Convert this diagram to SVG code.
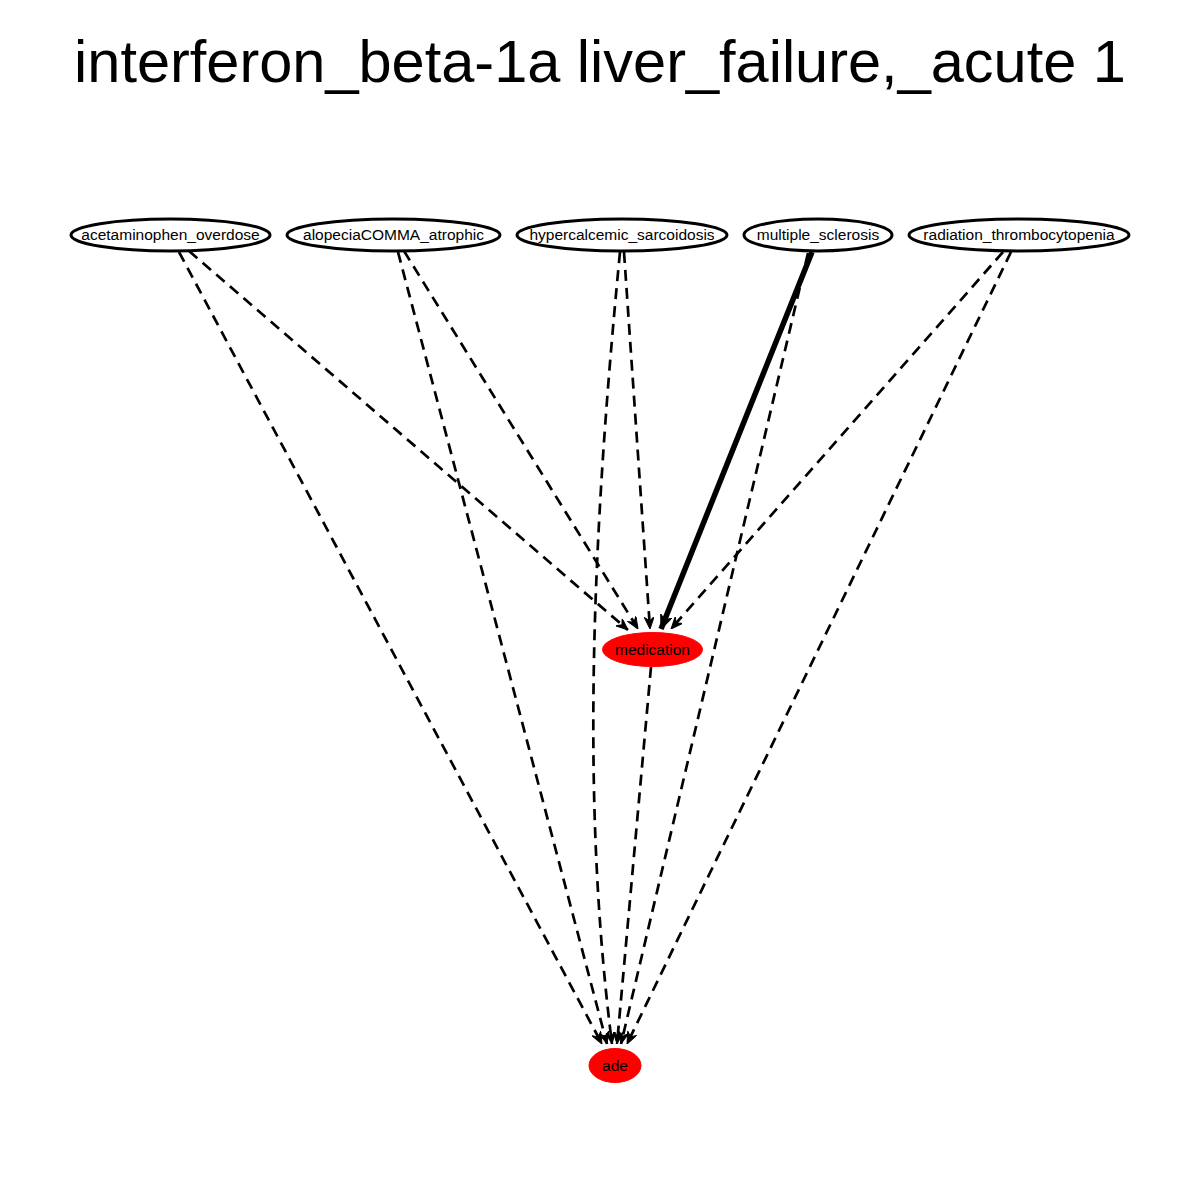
<svg xmlns="http://www.w3.org/2000/svg" width="1200" height="1200" viewBox="0 0 1200 1200">
<style>
.title{font-family:"Liberation Sans",Arial,sans-serif;font-size:59.5px;fill:#000;text-anchor:middle}
.lbl{font-family:"Liberation Sans",Arial,sans-serif;font-size:15.5px;fill:#000;text-anchor:middle}
.src{fill:#fff;stroke:#000;stroke-width:3}
.red{fill:#ff0000;stroke:#ff0000;stroke-width:1}
.e{fill:none;stroke:#000;stroke-width:2.7;stroke-dasharray:11,7;marker-end:url(#vee)}
.thick{fill:none;stroke:#000;stroke-width:5.5;marker-end:url(#vee2)}
</style>
<defs>
<marker id="vee" markerUnits="userSpaceOnUse" viewBox="0 0 12 10" refX="12" refY="5" markerWidth="12" markerHeight="10" orient="auto">
<path d="M0,0 L12,5 L0,10 L4,5 z" fill="#000" stroke="#000" stroke-width="1"/>
</marker>
<marker id="vee2" markerUnits="userSpaceOnUse" viewBox="0 0 14 12" refX="14" refY="6" markerWidth="14" markerHeight="12" orient="auto">
<path d="M0,0 L14,6 L0,12 L4,6 z" fill="#000" stroke="#000" stroke-width="1"/>
</marker>
</defs>
<rect width="1200" height="1200" fill="#fff"/>
<text class="title" x="600" y="82">interferon_beta-1a liver_failure,_acute 1</text>
<g id="edges">
<path class="e" d="M179,252 L602,1044"/>
<path class="e" d="M189,251 L628,630"/>
<path class="e" d="M398,252 L607,1044"/>
<path class="e" d="M404,251 L638,629"/>
<path class="e" d="M620,252 C592,540 581,800 612,1044"/>
<path class="e" d="M624,252 L650,629"/>
<path class="thick" d="M812,252 L661,629"/>
<path class="e" d="M808,253 L621,1044"/>
<path class="e" d="M1003,252 L671,629"/>
<path class="e" d="M1011,252 L627,1044"/>
<path class="e" d="M651,667 L617,1044"/>
</g>
<g id="node-acetaminophen_overdose">
<ellipse class="src" cx="170.5" cy="235" rx="99.5" ry="16"/>
<text class="lbl" x="170.5" y="240">acetaminophen_overdose</text>
</g>
<g id="node-alopeciaCOMMA_atrophic">
<ellipse class="src" cx="393.5" cy="235" rx="106.5" ry="16"/>
<text class="lbl" x="393.5" y="240">alopeciaCOMMA_atrophic</text>
</g>
<g id="node-hypercalcemic_sarcoidosis">
<ellipse class="src" cx="622" cy="235" rx="105" ry="16"/>
<text class="lbl" x="622" y="240">hypercalcemic_sarcoidosis</text>
</g>
<g id="node-multiple_sclerosis">
<ellipse class="src" cx="818" cy="235" rx="74" ry="16"/>
<text class="lbl" x="818" y="240">multiple_sclerosis</text>
</g>
<g id="node-radiation_thrombocytopenia">
<ellipse class="src" cx="1019" cy="235" rx="110" ry="16"/>
<text class="lbl" x="1019" y="240">radiation_thrombocytopenia</text>
</g>
<g id="node-medication">
<ellipse class="red" cx="652.5" cy="649.5" rx="50" ry="17"/>
<text class="lbl" x="652.5" y="655">medication</text>
</g>
<g id="node-ade">
<ellipse class="red" cx="615" cy="1065.5" rx="26" ry="17"/>
<text class="lbl" x="615" y="1071">ade</text>
</g>
</svg>
